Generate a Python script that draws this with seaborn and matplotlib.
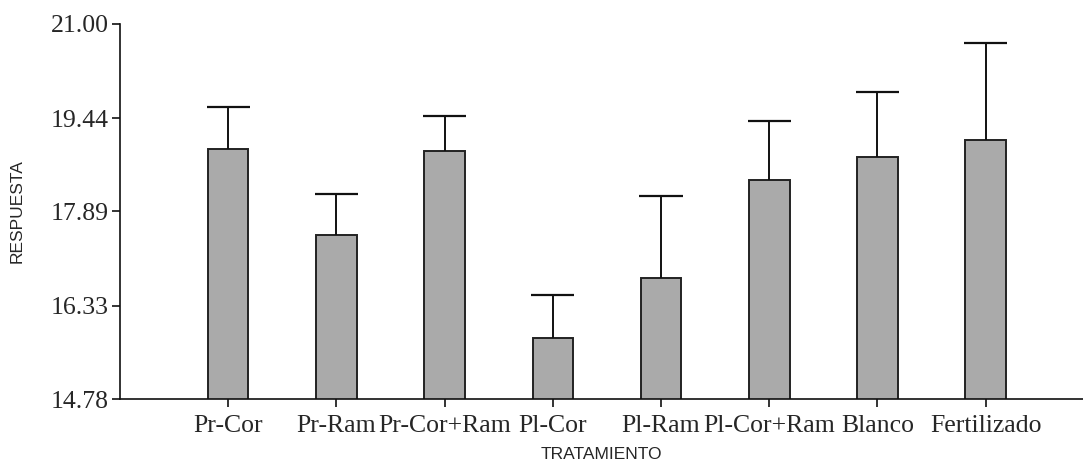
import numpy as np
import pandas as pd
import seaborn as sns
import matplotlib
matplotlib.use("Agg")
import matplotlib.pyplot as plt

# data
tratamiento = ["Pr-Cor", "Pr-Ram", "Pr-Cor+Ram", "Pl-Cor", "Pl-Ram",
               "Pl-Cor+Ram", "Blanco", "Fertilizado"]
respuesta = [18.93, 17.50, 18.89, 15.79, 16.78, 18.41, 18.80, 19.07]
error_sup = [0.69, 0.68, 0.58, 0.71, 1.36, 0.98, 1.08, 1.62]
yticks = [14.78, 16.33, 17.89, 19.44, 21.00]

df = pd.DataFrame({"TRATAMIENTO": tratamiento, "RESPUESTA": respuesta})

sns.set_style("white")
plt.rcParams["font.family"] = ["Liberation Serif", "DejaVu Serif"]

fig = plt.figure(figsize=(10.83, 4.63), dpi=100)
ax = fig.add_axes([0.1108, 0.1382, 0.8892, 0.81])

sns.barplot(data=df, x="TRATAMIENTO", y="RESPUESTA", color="#aaaaaa",
            edgecolor="#222222", linewidth=1.4, width=0.375,
            saturation=1, errorbar=None, ax=ax)

# upper error bars only
pos = np.arange(len(tratamiento))
tops = np.array(respuesta) + np.array(error_sup)
ax.vlines(pos, respuesta, tops, color="#111111", linewidth=1.4, zorder=1)
ax.hlines(tops, pos - 0.2, pos + 0.2, color="#111111", linewidth=1.6, zorder=1)

ax.set_ylim(14.78, 21.00)
ax.set_xlim(-1.0, 7.9)
ax.set_yticks(yticks)
ax.set_yticklabels([f"{v:.2f}" for v in yticks])

for s in ["top", "right"]:
    ax.spines[s].set_visible(False)
for s in ["left", "bottom"]:
    ax.spines[s].set_linewidth(1.2)
    ax.spines[s].set_color("#111111")

ax.tick_params(axis="both", which="major", direction="out", length=6,
               width=1.2, color="#111111", labelsize=18.5,
               left=True, bottom=True)
ax.tick_params(axis="y", pad=2)
ax.tick_params(axis="x", pad=5.5)

ax.set_xlabel("TRATAMIENTO", family=["Liberation Sans"], fontsize=12.5,
              labelpad=7)
ax.set_ylabel("RESPUESTA", family=["Liberation Sans"], fontsize=12.5,
              labelpad=19)

fig.savefig("out.png", dpi=100)
